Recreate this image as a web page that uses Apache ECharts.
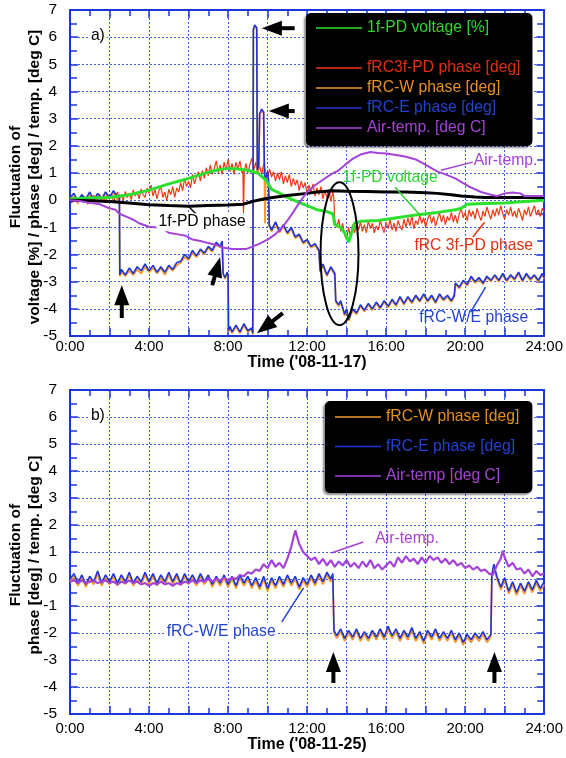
<!DOCTYPE html>
<html>
<head>
<meta charset="utf-8">
<script src="https://cdn.jsdelivr.net/npm/echarts/dist/echarts.min.js"></script>
<style>
  html, body { margin: 0; padding: 0; background: #ffffff; }
  #chart { width: 566px; height: 758px; }
</style>
</head>
<body>
<div id="chart"></div>
<script>
// ---- Time axis tick labels (every 4 hours) ----
const TIME_LABELS = ['0:00', '4:00', '8:00', '12:00', '16:00', '20:00', '24:00'];

// ---- Panel a) 2008-11-17 : [hour, value] ----
const pdVoltageA = [[0,0.05],[1,0.08],[2,0.1],[3,0.2],[4,0.37],[5,0.6],[6,0.8],[7,1.03],[7.5,1.12],[8,1.17],[8.5,1.15],[9,1.1],[9.5,1.0],[9.9,0.75],[10.2,0.4],[10.5,0.3],[11,0.1],[11.5,-0.05],[12,-0.2],[12.5,-0.35],[13,-0.42],[13.3,-0.5],[13.4,-0.9],[13.7,-1.0],[13.9,-1.2],[14.1,-1.55],[14.25,-1.2],[14.4,-0.85],[14.7,-0.78],[15.6,-0.75],[16.8,-0.62],[17.5,-0.55],[18.6,-0.45],[19.5,-0.35],[19.8,-0.3],[20.1,-0.15],[21,-0.12],[22,-0.1],[23,-0.05],[24,0.0]];

const pdPhaseA = [[0,0],[1,-0.02],[2,-0.05],[3,-0.1],[4,-0.17],[5,-0.2],[6,-0.22],[7,-0.2],[8,-0.18],[8.75,-0.15],[8.8,-0.08],[9.5,0.0],[10,0.07],[11,0.17],[12,0.25],[12.5,0.3],[13.3,0.35],[14,0.33],[15,0.32],[16,0.3],[17,0.3],[18,0.27],[18.6,0.25],[19.3,0.2],[19.8,0.15],[20.5,0.12],[21,0.1],[22,0.1],[23,0.1],[24,0.1]];

const rc3fPhaseA = [[0,0.05],[0.1,-0.1],[0.2,0.15],[0.3,0.0],[0.4,-0.12],[0.5,0.1],[0.6,0.2],[0.7,-0.05],[0.8,0.08],[0.9,-0.15],[1.0,0.12],[1.1,0.0],[1.2,0.18],[1.3,-0.08],[1.4,0.05],[1.5,0.22],[1.6,-0.05],[1.7,0.1],[1.8,-0.1],[1.9,0.15],[2.0,0.05],[2.1,0.25],[2.2,-0.05],[2.3,0.12],[2.4,0.3],[2.5,0.05],[2.6,0.2],[2.7,-0.02],[2.8,0.32],[2.9,0.1],[3.0,0.25],[3.1,0.02],[3.2,0.38],[3.3,0.15],[3.4,0.3],[3.5,0.05],[3.6,0.42],[3.7,0.2],[3.8,0.1],[3.9,0.45],[4.0,0.25],[4.1,0.55],[4.2,0.15],[4.3,0.4],[4.4,0.05],[4.5,0.35],[4.6,0.5],[4.7,0.1],[4.8,0.3],[4.9,-0.02],[5.0,0.4],[5.1,0.2],[5.2,0.5],[5.3,0.1],[5.4,0.45],[5.5,0.3],[5.6,0.65],[5.7,0.35],[5.8,0.8],[5.9,0.5],[6.0,0.7],[6.1,0.45],[6.2,0.95],[6.3,0.6],[6.4,0.85],[6.5,1.05],[6.6,0.7],[6.7,1.1],[6.8,0.8],[6.9,1.2],[7.0,0.9],[7.1,1.3],[7.2,0.95],[7.3,1.15],[7.4,1.45],[7.5,1.0],[7.6,1.3],[7.7,0.95],[7.8,1.4],[7.9,1.1],[8.0,1.5],[8.1,1.05],[8.2,1.35],[8.3,0.95],[8.4,1.4],[8.5,1.15],[8.6,1.45],[8.7,1.0],[8.75,1.1],[8.78,-0.5],[8.82,1.05],[8.9,1.35],[9.0,1.0],[9.1,1.3],[9.2,1.55],[9.3,1.1],[9.4,1.4],[9.5,1.0],[9.6,1.25],[9.7,0.95],[9.8,1.35],[9.9,1.05],[10.0,0.8],[10.1,1.15],[10.2,0.85],[10.3,1.05],[10.4,0.7],[10.5,1.0],[10.6,0.75],[10.7,1.05],[10.8,0.6],[10.9,0.9],[11.0,0.65],[11.1,0.95],[11.2,0.5],[11.3,0.8],[11.4,0.55],[11.5,0.75],[11.6,0.35],[11.7,0.7],[11.8,0.45],[11.9,0.65],[12.0,0.25],[12.1,0.55],[12.2,0.3],[12.3,0.6],[12.4,0.15],[12.5,0.45],[12.6,0.2],[12.7,0.5],[12.8,0.05],[12.9,0.35],[13.0,0.1],[13.1,0.4],[13.2,-0.05],[13.3,0.3],[13.35,0.1],[13.4,-0.75],[13.5,-1.0],[13.6,-0.7],[13.7,-1.15],[13.8,-0.85],[13.9,-1.3],[14.0,-1.45],[14.1,-1.0],[14.2,-1.35],[14.3,-0.9],[14.4,-1.2],[14.5,-0.85],[14.6,-1.1],[14.7,-0.8],[14.8,-1.15],[14.9,-0.9],[15.0,-1.2],[15.1,-0.75],[15.2,-1.05],[15.3,-0.85],[15.4,-1.2],[15.5,-0.95],[15.6,-1.1],[15.7,-0.75],[15.8,-1.0],[15.9,-1.2],[16.0,-0.8],[16.1,-1.05],[16.2,-0.7],[16.3,-1.1],[16.4,-0.85],[16.5,-1.15],[16.6,-0.75],[16.7,-0.95],[16.8,-1.1],[16.9,-0.7],[17.0,-1.0],[17.1,-0.65],[17.2,-0.95],[17.3,-0.6],[17.4,-1.05],[17.5,-0.75],[17.6,-0.9],[17.7,-0.55],[17.8,-0.85],[17.9,-0.65],[18.0,-1.0],[18.1,-0.7],[18.2,-0.5],[18.3,-0.85],[18.4,-0.6],[18.5,-0.95],[18.6,-0.7],[18.7,-0.45],[18.8,-0.8],[18.9,-0.55],[19.0,-0.9],[19.1,-0.6],[19.2,-0.75],[19.3,-0.45],[19.4,-0.8],[19.5,-0.55],[19.6,-0.85],[19.7,-0.5],[19.8,-0.3],[19.9,-0.65],[20.0,-0.45],[20.1,-0.75],[20.2,-0.35],[20.3,-0.6],[20.4,-0.4],[20.5,-0.7],[20.6,-0.3],[20.7,-0.55],[20.8,-0.75],[20.9,-0.4],[21.0,-0.6],[21.1,-0.25],[21.2,-0.5],[21.3,-0.7],[21.4,-0.35],[21.5,-0.6],[21.6,-0.3],[21.7,-0.55],[21.8,-0.2],[21.9,-0.5],[22.0,-0.7],[22.1,-0.35],[22.2,-0.55],[22.3,-0.25],[22.4,-0.6],[22.5,-0.4],[22.6,-0.65],[22.7,-0.3],[22.8,-0.5],[22.9,-0.75],[23.0,-0.35],[23.1,-0.55],[23.2,-0.25],[23.3,-0.6],[23.4,-0.4],[23.5,-0.2],[23.6,-0.55],[23.7,-0.35],[23.8,-0.6],[23.9,-0.3],[24.0,-0.45]];

const rcWPhaseA = [[0,0.0],[0.2,0.15],[0.4,-0.1],[0.6,0.1],[0.8,0.0],[1.0,0.2],[1.2,-0.05],[1.4,0.15],[1.6,0.0],[1.8,0.2],[2.0,0.05],[2.2,0.3],[2.4,0.0],[2.5,0.15],[2.52,-2.8],[2.6,-2.65],[2.8,-2.8],[3.0,-2.6],[3.2,-2.75],[3.4,-2.55],[3.6,-2.7],[3.8,-2.45],[4.0,-2.65],[4.2,-2.5],[4.4,-2.7],[4.6,-2.5],[4.8,-2.75],[5.0,-2.45],[5.2,-2.6],[5.4,-2.4],[5.6,-2.3],[5.8,-2.1],[6.0,-2.2],[6.2,-1.95],[6.4,-2.1],[6.6,-1.85],[6.8,-2.0],[7.0,-1.75],[7.2,-1.9],[7.4,-1.6],[7.6,-1.75],[7.7,-1.55],[7.75,-2.75],[7.85,-2.9],[7.95,-2.7],[8.0,-2.8],[8.02,-4.85],[8.1,-4.7],[8.2,-4.9],[8.4,-4.65],[8.6,-4.9],[8.8,-4.6],[9.0,-4.85],[9.2,-4.75],[9.25,-4.95],[9.28,6.25],[9.35,6.4],[9.45,6.3],[9.48,1.0],[9.55,1.2],[9.6,3.15],[9.7,3.3],[9.8,3.2],[9.84,0.9],[9.87,-0.85],[9.9,0.7],[10.0,0.95],[10.05,0.6],[10.08,-0.95],[10.2,-1.15],[10.4,-0.85],[10.6,-1.2],[10.8,-0.95],[11.0,-1.25],[11.2,-1.05],[11.4,-1.4],[11.6,-1.3],[11.8,-1.6],[12.0,-1.5],[12.2,-1.75],[12.4,-1.65],[12.6,-1.9],[12.66,-2.65],[12.8,-2.4],[13.0,-2.8],[13.2,-2.5],[13.4,-2.75],[13.45,-3.75],[13.6,-3.9],[13.7,-3.75],[13.9,-4.25],[14.0,-4.05],[14.1,-4.45],[14.3,-4.05],[14.5,-4.2],[14.7,-3.9],[14.9,-4.1],[15.1,-3.85],[15.3,-4.05],[15.5,-3.8],[15.7,-4.0],[15.9,-3.75],[16.1,-3.95],[16.3,-3.7],[16.5,-3.9],[16.7,-3.6],[16.9,-3.85],[17.1,-3.6],[17.3,-3.8],[17.5,-3.55],[17.7,-3.75],[17.9,-3.5],[18.1,-3.75],[18.3,-3.55],[18.5,-3.8],[18.7,-3.5],[18.9,-3.7],[19.1,-3.55],[19.3,-3.75],[19.45,-3.55],[19.5,-3.1],[19.7,-3.25],[19.9,-3.0],[20.1,-3.15],[20.3,-2.85],[20.5,-3.05],[20.7,-2.9],[20.9,-3.1],[21.1,-2.85],[21.3,-3.0],[21.5,-2.8],[21.7,-3.0],[21.9,-2.75],[22.1,-3.0],[22.3,-2.8],[22.5,-2.95],[22.7,-2.7],[22.9,-3.0],[23.1,-2.75],[23.3,-2.95],[23.5,-2.8],[23.7,-3.0],[23.9,-2.75],[24.0,-2.9]];

const rcEPhaseA = [[0,0.1],[0.2,0.25],[0.4,-0.05],[0.6,0.2],[0.8,0.05],[1.0,0.3],[1.2,0.0],[1.4,0.25],[1.6,0.05],[1.8,0.3],[2.0,0.1],[2.2,0.35],[2.4,0.1],[2.5,0.2],[2.52,-2.75],[2.6,-2.55],[2.8,-2.75],[3.0,-2.5],[3.2,-2.7],[3.4,-2.45],[3.6,-2.6],[3.8,-2.35],[4.0,-2.6],[4.2,-2.4],[4.4,-2.65],[4.6,-2.45],[4.8,-2.65],[5.0,-2.4],[5.2,-2.55],[5.4,-2.3],[5.6,-2.25],[5.8,-2.0],[6.0,-2.15],[6.2,-1.85],[6.4,-2.05],[6.6,-1.8],[6.8,-1.95],[7.0,-1.7],[7.2,-1.85],[7.4,-1.55],[7.6,-1.7],[7.7,-1.5],[7.75,-2.7],[7.85,-2.85],[7.95,-2.65],[8.0,-2.75],[8.02,-4.8],[8.1,-4.65],[8.2,-4.85],[8.4,-4.6],[8.6,-4.85],[8.8,-4.55],[9.0,-4.8],[9.2,-4.7],[9.25,-4.9],[9.28,6.3],[9.35,6.45],[9.45,6.35],[9.48,1.1],[9.55,1.3],[9.6,3.2],[9.7,3.35],[9.8,3.25],[9.84,1.0],[9.9,0.8],[10.0,1.05],[10.05,0.7],[10.08,-0.9],[10.2,-1.1],[10.4,-0.8],[10.6,-1.15],[10.8,-0.9],[11.0,-1.2],[11.2,-1.0],[11.4,-1.35],[11.6,-1.25],[11.8,-1.55],[12.0,-1.45],[12.2,-1.7],[12.4,-1.6],[12.6,-1.85],[12.66,-2.6],[12.8,-2.35],[13.0,-2.75],[13.2,-2.45],[13.4,-2.7],[13.45,-3.7],[13.6,-3.85],[13.7,-3.7],[13.9,-4.2],[14.0,-4.0],[14.1,-4.4],[14.3,-4.0],[14.5,-4.15],[14.7,-3.85],[14.9,-4.05],[15.1,-3.8],[15.3,-4.0],[15.5,-3.75],[15.7,-3.95],[15.9,-3.7],[16.1,-3.9],[16.3,-3.65],[16.5,-3.85],[16.7,-3.55],[16.9,-3.8],[17.1,-3.55],[17.3,-3.75],[17.5,-3.5],[17.7,-3.7],[17.9,-3.45],[18.1,-3.7],[18.3,-3.5],[18.5,-3.75],[18.7,-3.45],[18.9,-3.65],[19.1,-3.5],[19.3,-3.7],[19.45,-3.5],[19.5,-3.05],[19.7,-3.2],[19.9,-2.95],[20.1,-3.1],[20.3,-2.8],[20.5,-3.0],[20.7,-2.85],[20.9,-3.05],[21.1,-2.8],[21.3,-2.95],[21.5,-2.75],[21.7,-2.95],[21.9,-2.7],[22.1,-2.95],[22.3,-2.75],[22.5,-2.9],[22.7,-2.65],[22.9,-2.95],[23.1,-2.7],[23.3,-2.9],[23.5,-2.75],[23.7,-2.95],[23.9,-2.7],[24.0,-2.85]];

const airTempA = [[0,0],[0.5,-0.03],[1.0,-0.1],[1.5,-0.15],[2.0,-0.3],[2.3,-0.35],[2.5,-0.5],[3.0,-0.65],[3.2,-0.72],[3.5,-0.85],[4.0,-0.98],[4.6,-1.02],[5.0,-1.2],[5.4,-1.25],[5.8,-1.3],[6.2,-1.45],[6.6,-1.5],[7.0,-1.58],[7.4,-1.65],[7.8,-1.75],[8.2,-1.8],[8.9,-1.8],[9.2,-1.72],[9.6,-1.6],[10.0,-1.45],[10.4,-1.25],[10.8,-0.95],[11.2,-0.55],[11.6,-0.1],[12.0,0.3],[12.4,0.55],[12.8,0.75],[13.2,0.95],[13.6,1.1],[14.0,1.35],[14.3,1.52],[14.7,1.68],[15.2,1.77],[15.6,1.74],[16.0,1.72],[16.5,1.66],[17.0,1.6],[17.5,1.5],[18.0,1.3],[18.6,1.05],[19.0,0.95],[19.5,0.8],[20.2,0.5],[20.8,0.3],[21.3,0.2],[21.6,0.15],[22.0,0.25],[22.4,0.28],[22.8,0.25],[23.0,0.15],[24.0,0.15]];

// ---- Panel b) 2008-11-25 : [hour, value] ----
const rcWPhaseB = [[0,-0.1],[0.2,0.1],[0.4,-0.25],[0.6,0.05],[0.8,-0.3],[1.0,0.0],[1.2,-0.2],[1.4,0.2],[1.6,-0.25],[1.8,0.05],[2.0,-0.2],[2.2,0.1],[2.4,-0.25],[2.6,0.05],[2.8,-0.2],[3.0,0.15],[3.2,-0.25],[3.4,0.0],[3.6,-0.2],[3.8,0.15],[4.0,-0.2],[4.2,0.1],[4.4,-0.25],[4.6,0.05],[4.8,-0.2],[5.0,0.15],[5.2,-0.2],[5.4,0.1],[5.6,-0.25],[5.8,0.1],[6.0,-0.2],[6.2,0.05],[6.4,-0.25],[6.6,0.1],[6.8,-0.2],[7.0,0.05],[7.2,-0.3],[7.4,0.0],[7.6,-0.25],[7.8,0.05],[8.0,-0.3],[8.2,0.0],[8.4,-0.35],[8.6,0.05],[8.8,-0.25],[9.0,0.0],[9.2,-0.35],[9.4,-0.05],[9.6,-0.4],[9.8,0.0],[10.0,-0.45],[10.2,-0.05],[10.4,-0.35],[10.6,0.0],[10.8,-0.3],[11.0,0.05],[11.2,-0.25],[11.4,0.0],[11.6,-0.4],[11.8,-0.05],[12.0,-0.3],[12.2,0.05],[12.4,-0.25],[12.6,0.1],[12.8,-0.2],[13.0,0.15],[13.2,-0.1],[13.3,0.1],[13.36,-2.0],[13.5,-2.2],[13.7,-1.95],[13.9,-2.3],[14.1,-2.0],[14.3,-2.25],[14.5,-1.95],[14.7,-2.3],[14.9,-2.05],[15.1,-2.3],[15.3,-2.0],[15.5,-2.25],[15.7,-1.95],[15.9,-2.25],[16.1,-1.85],[16.3,-2.2],[16.5,-1.95],[16.7,-2.3],[16.9,-2.0],[17.1,-2.25],[17.3,-1.9],[17.5,-2.3],[17.7,-2.05],[17.9,-2.4],[18.1,-2.0],[18.3,-2.25],[18.5,-1.95],[18.7,-2.3],[18.9,-2.05],[19.1,-2.3],[19.3,-2.0],[19.5,-2.35],[19.7,-2.1],[19.9,-2.45],[20.1,-2.15],[20.3,-2.35],[20.5,-2.1],[20.7,-2.3],[20.9,-2.05],[21.1,-2.35],[21.3,-2.15],[21.35,0.05],[21.45,0.45],[21.6,0.0],[21.8,-0.4],[22.0,-0.05],[22.2,-0.55],[22.4,-0.2],[22.6,-0.6],[22.8,-0.25],[23.0,-0.55],[23.2,-0.2],[23.4,-0.5],[23.6,-0.15],[23.8,-0.45],[24.0,-0.2]];

const rcEPhaseB = [[0,0.0],[0.2,0.2],[0.4,-0.15],[0.6,0.15],[0.8,-0.2],[1.0,0.1],[1.2,-0.1],[1.4,0.3],[1.6,-0.15],[1.8,0.15],[2.0,-0.1],[2.2,0.2],[2.4,-0.15],[2.6,0.15],[2.8,-0.1],[3.0,0.25],[3.2,-0.15],[3.4,0.1],[3.6,-0.1],[3.8,0.25],[4.0,-0.1],[4.2,0.2],[4.4,-0.15],[4.6,0.15],[4.8,-0.1],[5.0,0.25],[5.2,-0.1],[5.4,0.2],[5.6,-0.15],[5.8,0.2],[6.0,-0.1],[6.2,0.15],[6.4,-0.15],[6.6,0.2],[6.8,-0.1],[7.0,0.15],[7.2,-0.2],[7.4,0.1],[7.6,-0.15],[7.8,0.15],[8.0,-0.2],[8.2,0.1],[8.4,-0.25],[8.6,0.15],[8.8,-0.15],[9.0,0.1],[9.2,-0.25],[9.4,0.05],[9.6,-0.3],[9.8,0.1],[10.0,-0.35],[10.2,0.05],[10.4,-0.25],[10.6,0.1],[10.8,-0.2],[11.0,0.15],[11.2,-0.15],[11.4,0.1],[11.6,-0.3],[11.8,0.05],[12.0,-0.2],[12.2,0.15],[12.4,-0.15],[12.6,0.2],[12.8,-0.1],[13.0,0.25],[13.2,0.0],[13.3,0.2],[13.36,-1.9],[13.5,-2.1],[13.7,-1.85],[13.9,-2.2],[14.1,-1.9],[14.3,-2.15],[14.5,-1.85],[14.7,-2.2],[14.9,-1.95],[15.1,-2.2],[15.3,-1.9],[15.5,-2.15],[15.7,-1.85],[15.9,-2.15],[16.1,-1.75],[16.3,-2.1],[16.5,-1.85],[16.7,-2.2],[16.9,-1.9],[17.1,-2.15],[17.3,-1.8],[17.5,-2.2],[17.7,-1.95],[17.9,-2.3],[18.1,-1.9],[18.3,-2.15],[18.5,-1.85],[18.7,-2.2],[18.9,-1.95],[19.1,-2.2],[19.3,-1.9],[19.5,-2.25],[19.7,-2.0],[19.9,-2.35],[20.1,-2.05],[20.3,-2.25],[20.5,-2.0],[20.7,-2.2],[20.9,-1.95],[21.1,-2.25],[21.3,-2.05],[21.35,0.15],[21.45,0.55],[21.6,0.1],[21.8,-0.3],[22.0,0.05],[22.2,-0.45],[22.4,-0.1],[22.6,-0.5],[22.8,-0.15],[23.0,-0.45],[23.2,-0.1],[23.4,-0.4],[23.6,-0.05],[23.8,-0.35],[24.0,-0.1]];

const airTempB = [[0,-0.1],[0.2,-0.05],[0.4,-0.15],[0.6,-0.05],[0.8,-0.15],[1.0,-0.1],[1.2,-0.05],[1.4,-0.15],[1.6,-0.1],[1.8,-0.05],[2.0,-0.15],[2.2,-0.1],[2.4,-0.2],[2.6,-0.1],[2.8,-0.15],[3.0,-0.05],[3.2,-0.15],[3.4,-0.1],[3.6,-0.2],[3.8,-0.15],[4.0,-0.25],[4.2,-0.15],[4.4,-0.2],[4.6,-0.1],[4.8,-0.2],[5.0,-0.15],[5.2,-0.25],[5.4,-0.15],[5.6,-0.2],[5.8,-0.1],[6.0,-0.15],[6.2,-0.05],[6.4,-0.15],[6.6,-0.05],[6.8,-0.1],[7.0,0.0],[7.2,-0.1],[7.4,0.0],[7.6,-0.05],[7.8,0.05],[8.0,-0.05],[8.2,0.05],[8.4,0.0],[8.6,0.15],[8.8,0.1],[9.0,0.25],[9.2,0.2],[9.4,0.35],[9.6,0.3],[9.8,0.55],[10.0,0.4],[10.2,0.7],[10.4,0.45],[10.6,0.6],[10.8,0.4],[11.0,0.75],[11.2,1.2],[11.4,1.8],[11.6,1.3],[11.8,1.0],[12.0,0.85],[12.2,0.7],[12.4,0.8],[12.6,0.55],[12.8,0.75],[13.0,0.5],[13.2,0.7],[13.4,0.45],[13.6,0.65],[13.8,0.5],[14.0,0.7],[14.2,0.45],[14.4,0.6],[14.6,0.4],[14.8,0.65],[15.0,0.45],[15.2,0.7],[15.4,0.4],[15.6,0.55],[15.8,0.35],[16.0,0.5],[16.2,0.65],[16.4,0.45],[16.6,0.8],[16.8,0.6],[17.0,0.85],[17.2,0.65],[17.4,0.75],[17.6,0.55],[17.8,0.8],[18.0,0.6],[18.2,0.85],[18.4,0.7],[18.6,0.8],[18.8,0.6],[19.0,0.75],[19.2,0.55],[19.4,0.7],[19.6,0.5],[19.8,0.6],[20.0,0.4],[20.2,0.5],[20.4,0.35],[20.6,0.45],[20.8,0.3],[21.0,0.35],[21.2,0.2],[21.4,0.15],[21.6,0.5],[21.8,0.75],[21.9,1.05],[22.0,0.8],[22.2,0.45],[22.4,0.6],[22.6,0.35],[22.8,0.4],[23.0,0.2],[23.2,0.35],[23.4,0.1],[23.6,0.3],[23.8,0.15],[24.0,0.2]];

// ---- Styling ----
const FONT = '"Liberation Sans", Arial, Helvetica, sans-serif';
const AXIS_BLUE = '#1c36d6';
const GRID_BLUE = '#3c5cf0';
const COL = {
  green: '#2ee02e', black: '#000000', red: '#ee3a12',
  orange: '#f59a2a', blue: '#1e34d8', purple: '#a443d8'
};
const TXT = {
  green: '#2fd42f', red: '#e0300f', orange: '#e8901e', blue: '#2442d2', purple: '#a443d2', black: '#000000'
};

const chart = echarts.init(document.getElementById('chart'), null, { renderer: 'canvas' });

function xAxesFor(gridIndex, title, labelMargin, nameGap) {
  const common = {
    type: 'value', gridIndex, min: 0, max: 24, interval: 2,
    axisLine: { show: true, onZero: false, lineStyle: { color: AXIS_BLUE, width: 2 } },
    axisTick: { show: true, inside: true, length: 8, lineStyle: { color: AXIS_BLUE, width: 1.5 } },
    minorTick: { show: true, splitNumber: 2, length: 6, lineStyle: { color: AXIS_BLUE, width: 1.5 } }
  };
  return [
    Object.assign({}, common, {
      position: 'bottom',
      splitLine: { show: true, lineStyle: { color: GRID_BLUE, width: 1, type: [2, 2] } },
      axisLabel: {
        color: '#000', fontSize: 15, fontFamily: FONT, margin: labelMargin,
        formatter: v => (v % 4 === 0 ? TIME_LABELS[v / 4] : '')
      },
      name: title, nameLocation: 'middle', nameGap,
      nameTextStyle: { color: '#000', fontSize: 16, fontWeight: 'bold', fontFamily: FONT }
    }),
    Object.assign({}, common, {
      position: 'top', axisLabel: { show: false }, splitLine: { show: false }
    })
  ];
}

function yAxesFor(gridIndex) {
  const common = {
    type: 'value', gridIndex, min: -5, max: 7, interval: 1,
    axisLine: { show: true, onZero: false, lineStyle: { color: AXIS_BLUE, width: 2 } },
    axisTick: { show: true, inside: true, length: 8, lineStyle: { color: AXIS_BLUE, width: 1.5 } },
    minorTick: { show: true, splitNumber: 2, length: 7, lineStyle: { color: AXIS_BLUE, width: 1.5 } }
  };
  return [
    Object.assign({}, common, {
      position: 'left',
      splitLine: { show: true, lineStyle: { color: GRID_BLUE, width: 1, type: [2, 2] } },
      axisLabel: { color: '#000', fontSize: 15.5, fontFamily: FONT, margin: 13 }
    }),
    Object.assign({}, common, {
      position: 'right', axisLabel: { show: false }, splitLine: { show: false }
    })
  ];
}

function lineSeries(name, data, axis, color, width, z) {
  return {
    name, type: 'line', data, xAxisIndex: axis, yAxisIndex: axis,
    showSymbol: false, symbol: 'none', clip: true, z,
    lineStyle: { color, width }, itemStyle: { color }, emphasis: { disabled: true }
  };
}

const legendText = { fontSize: 15.7, fontFamily: FONT, lineHeight: 16 };

const option = {
  animation: false,
  backgroundColor: '#ffffff',
  grid: [
    { left: 70, top: 10, width: 477, height: 326 },
    { left: 70, top: 390, width: 477, height: 324 }
  ],
  xAxis: [].concat(xAxesFor(0, "Time ('08-11-17)", 3, 19), xAxesFor(1, "Time ('08-11-25)", 7, 22)),
  yAxis: [].concat(yAxesFor(0), yAxesFor(1)),
  legend: [
    {
      left: 306, top: 13, orient: 'vertical', selectedMode: false,
      backgroundColor: '#000', borderRadius: 5, padding: [7, 12, 10, 10],
      shadowColor: 'rgba(0,0,0,0.45)', shadowBlur: 2, shadowOffsetX: -2, shadowOffsetY: 2,
      itemGap: 4, itemWidth: 46, itemHeight: 1.5, icon: 'rect',
      textStyle: legendText,
      data: [
        { name: '1f-PD voltage [%]', textStyle: { color: TXT.green } },
        { name: '1f-PD phase [deg]', textStyle: { color: TXT.black } },
        { name: 'fRC3f-PD phase [deg]', textStyle: { color: TXT.red } },
        { name: 'fRC-W phase [deg]', textStyle: { color: TXT.orange } },
        { name: 'fRC-E phase [deg]', textStyle: { color: TXT.blue } },
        { name: 'Air-temp. [deg C]', textStyle: { color: TXT.purple } }
      ]
    },
    {
      left: 325, top: 401, orient: 'vertical', selectedMode: false,
      backgroundColor: '#000', borderRadius: 5, padding: [8, 13, 9, 10],
      shadowColor: 'rgba(0,0,0,0.45)', shadowBlur: 2, shadowOffsetX: -2, shadowOffsetY: 2,
      itemGap: 13.5, itemWidth: 46, itemHeight: 1.5, icon: 'rect',
      textStyle: legendText,
      data: [
        { name: 'fRC-W phase [deg]', textStyle: { color: TXT.orange } },
        { name: 'fRC-E phase [deg]', textStyle: { color: TXT.blue } },
        { name: 'Air-temp [deg C]', textStyle: { color: TXT.purple } }
      ]
    }
  ],
  series: [
    lineSeries('fRC3f-PD phase [deg]', rc3fPhaseA, 0, COL.red, 1.2, 2),
    lineSeries('fRC-W phase [deg]', rcWPhaseA, 0, COL.orange, 1.8, 3),
    lineSeries('fRC-E phase [deg]', rcEPhaseA, 0, COL.blue, 1.6, 4),
    lineSeries('1f-PD voltage [%]', pdVoltageA, 0, COL.green, 3, 5),
    lineSeries('1f-PD phase [deg]', pdPhaseA, 0, COL.black, 3, 6),
    lineSeries('Air-temp. [deg C]', airTempA, 0, COL.purple, 2, 7),

    lineSeries('fRC-W phase [deg]', rcWPhaseB, 2, COL.orange, 1.8, 3),
    lineSeries('fRC-E phase [deg]', rcEPhaseB, 2, COL.blue, 1.6, 4),
    lineSeries('Air-temp [deg C]', airTempB, 2, COL.purple, 2.2, 5)
  ]
};

chart.setOption(option);

// ---- Annotations placed in data coordinates of each panel ----
// arrows: [panel, tailHour, tailValue, tipHour, tipValue]
const arrowsDef = [
  [0, 11.37, 6.33, 9.71, 6.33],
  [0, 11.37, 3.28, 10.06, 3.28],
  [0, 2.62, -4.34, 2.62, -3.13],
  [0, 7.2, -3.13, 7.6, -2.1],
  [0, 10.77, -4.16, 9.46, -4.9],
  [1, 13.33, -3.85, 13.33, -2.7],
  [1, 21.48, -3.85, 21.48, -2.7]
];
// labels: [panel, hour, value, text, colour, white backing]
const labelsDef = [
  [0, 1.41, 6.07, 'a)', '#000', true],
  [0, 22.04, 1.47, 'Air-temp.', TXT.purple, false],
  [0, 16.2, 0.81, '1f-PD voltage', TXT.green, false],
  [0, 6.69, -0.81, '1f-PD phase', '#000', true],
  [0, 20.43, -1.66, 'fRC 3f-PD phase', TXT.red, false],
  [0, 20.43, -4.34, 'fRC-W/E phase', TXT.blue, false],
  [1, 1.41, 6.04, 'b)', '#000', true],
  [1, 17.06, 1.48, 'Air-temp.', TXT.purple, false],
  [1, 7.65, -1.96, 'fRC-W/E phase', TXT.blue, true]
];
// pointer lines: [panel, h1, v1, h2, v2, colour]
const pointersDef = [
  [0, 18.77, 1.10, 20.38, 1.40, TXT.purple],
  [0, 16.45, 0.48, 17.71, -0.55, TXT.green],
  [0, 6.04, -0.26, 6.54, -0.63, '#000'],
  [0, 20.38, -1.36, 20.98, -0.81, TXT.red],
  [0, 20.28, -4.12, 21.03, -3.20, TXT.blue],
  [1, 13.23, 0.96, 14.84, 1.37, TXT.purple],
  [1, 10.72, -1.59, 11.82, -0.33, TXT.blue]
];
// ellipse around the 13-14 h disturbance: [panel, hour, value, halfWidthHours, halfHeightValue]
const ellipseDef = [0, 13.64, -1.97, 0.96, 2.63];

function px(panel, h, v) {
  return chart.convertToPixel({ xAxisIndex: panel * 2, yAxisIndex: panel * 2 }, [h, v]);
}

const graphics = [];

arrowsDef.forEach(([p, th, tv, hh, hv]) => {
  const t = px(p, th, tv), h = px(p, hh, hv);
  const dx = h[0] - t[0], dy = h[1] - t[1], len = Math.hypot(dx, dy);
  const ux = dx / len, uy = dy / len, nx = -uy, ny = ux;
  const HL = 20, HW = 7.5;
  const bx = h[0] - ux * HL, by = h[1] - uy * HL;
  graphics.push({
    type: 'line', z: 100, silent: true,
    shape: { x1: t[0], y1: t[1], x2: bx + ux * 2, y2: by + uy * 2 },
    style: { stroke: '#000', lineWidth: 4 }
  });
  graphics.push({
    type: 'polygon', z: 100, silent: true,
    shape: { points: [[h[0], h[1]], [bx + nx * HW, by + ny * HW], [bx - nx * HW, by - ny * HW]] },
    style: { fill: '#000' }
  });
});

pointersDef.forEach(([p, h1, v1, h2, v2, c]) => {
  const a = px(p, h1, v1), b = px(p, h2, v2);
  graphics.push({
    type: 'line', z: 90, silent: true,
    shape: { x1: a[0], y1: a[1], x2: b[0], y2: b[1] },
    style: { stroke: c, lineWidth: 1.5 }
  });
});

labelsDef.forEach(([p, h, v, text, c, backed]) => {
  const pt = px(p, h, v);
  graphics.push({
    type: 'text', z: 95, silent: true, x: pt[0], y: pt[1],
    style: {
      text, fill: c, fontSize: 15.7, fontFamily: FONT,
      align: 'center', verticalAlign: 'middle',
      backgroundColor: backed ? '#ffffff' : 'transparent', padding: backed ? [1, 2] : 0
    }
  });
});

{
  const [p, h, v, rh, rv] = ellipseDef;
  const c = px(p, h, v), e = px(p, h + rh, v + rv);
  graphics.push({
    type: 'ellipse', z: 92, silent: true,
    shape: { cx: c[0], cy: c[1], rx: Math.abs(e[0] - c[0]), ry: Math.abs(e[1] - c[1]) },
    style: { fill: 'none', stroke: '#000', lineWidth: 2 }
  });
}

// Rotated y-axis titles, centred beside each panel
const yTitles = [
  [25.5, 177, 'Fluctuation of\nvoltage [%] / phase [deg] / temp. [deg C]'],
  [25.5, 555, 'Fluctuation of\nphase [deg] / temp. [deg C]']
];
yTitles.forEach(([x, y, text]) => {
  graphics.push({
    type: 'text', z: 95, silent: true, x, y, rotation: Math.PI / 2,
    style: {
      text, fill: '#000', fontSize: 15.5, fontWeight: 'bold', fontFamily: FONT,
      lineHeight: 19, align: 'center', verticalAlign: 'middle'
    }
  });
});

chart.setOption({ graphic: graphics });
</script>
</body>
</html>
